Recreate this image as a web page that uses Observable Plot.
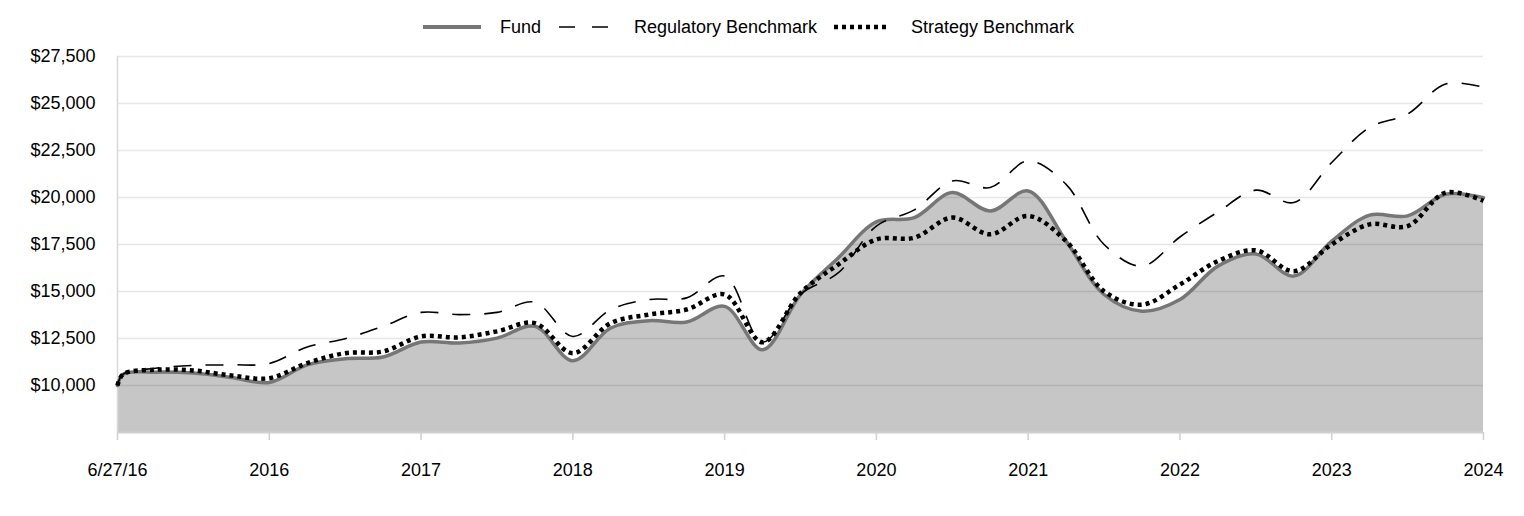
<!DOCTYPE html>
<html>
<head>
<meta charset="utf-8">
<script src="https://cdn.jsdelivr.net/npm/d3@7"></script>
<script src="https://cdn.jsdelivr.net/npm/@observablehq/plot@0.6"></script>
<style>
  body { margin: 0; background: #fff; font-family: "Liberation Sans", Arial, sans-serif; }
  #wrap { position: relative; width: 1524px; height: 516px; }
  #legend { position: absolute; left: 0; top: 0; width: 1524px; height: 40px; font-size: 18px; color: #000; }
  .item { position: absolute; top: 16px; display: flex; align-items: center; height: 22px; }
  .item span { margin-left: 19px; white-space: nowrap; }
  #chart { position: absolute; left: 0; top: 40px; }
</style>
</head>
<body>
<div id="wrap">
  <div id="legend"></div>
  <div id="chart"></div>
</div>
<script>
// Time position of each observation, in quarters from inception (6/27/16)
const quarter = [0, 0.15, 1, 2, 3, 4, 5, 6, 7, 8, 9, 10, 11, 12, 13, 14, 15, 16, 17, 18, 19, 20,
  21, 22, 23, 24, 25, 26, 27, 28, 29, 30, 31, 32, 33, 34, 35, 36];
const fund = [10000, 10600, 10710, 10660, 10430, 10160, 11100, 11420, 11520, 12310, 12260, 12520,
  13150, 11320, 13060, 13450, 13380, 14210, 11900, 14840, 16800, 18700, 18930, 20260, 19280, 20350,
  17680, 14840, 13950, 14570, 16350, 17000, 15820, 17680, 19060, 19020, 20170, 19990];
const regulatory = [10000, 10600, 10920, 11070, 11100, 11170, 12050, 12490, 13150, 13890, 13770, 13890,
  14430, 12610, 14040, 14570, 14660, 15820, 12300, 14850, 16000, 18480, 19340, 20880, 20530, 21950,
  20700, 17500, 16350, 17900, 19230, 20390, 19730, 21860, 23730, 24440, 26040, 25860];
const strategy = [10000, 10600, 10840, 10800, 10530, 10390, 11190, 11720, 11810, 12610, 12560, 12880,
  13320, 11720, 13320, 13770, 14040, 14840, 12300, 14920, 16440, 17770, 17860, 18930, 18040, 19020,
  17680, 15010, 14300, 15370, 16620, 17190, 16080, 17500, 18570, 18480, 20260, 19820];
const xTickPos = [0, 4, 8, 12, 16, 20, 24, 28, 32, 36];
const xTickLabels = ["6/27/16", "2016", "2017", "2018", "2019", "2020", "2021", "2022", "2023", "2024"];
const yTicks = [10000, 12500, 15000, 17500, 20000, 22500, 25000, 27500];
const yDomain = [7500, 27500];
const seriesNames = ["Fund", "Regulatory Benchmark", "Strategy Benchmark"];

const rows = (vals) => quarter.map((q, i) => ({q, v: vals[i]}));
const fundRows = rows(fund), regRows = rows(regulatory), stratRows = rows(strategy);
const curve = "catmull-rom";
const fmt = d3.format(",");
const labelOf = new Map(xTickPos.map((p, i) => [p, xTickLabels[i]]));

const chart = Plot.plot({
  width: 1524,
  height: 476,
  marginLeft: 117,
  marginRight: 41,
  marginTop: 16,
  marginBottom: 84,
  style: {fontFamily: "'Liberation Sans', Arial, sans-serif", fontSize: "18px", color: "#000", background: "#fff"},
  x: {type: "linear", domain: [0, 36]},
  y: {domain: yDomain},
  marks: [
    Plot.areaY(fundRows, {x: "q", y: "v", fill: "#c6c6c6", curve, clip: true}),
    Plot.ruleY(yTicks, {stroke: "#000", strokeOpacity: 0.095, strokeWidth: 1.5}),
    Plot.ruleX([0], {stroke: "#d9d9d9", strokeWidth: 1.5}),
    Plot.ruleY([yDomain[0]], {stroke: "#cfcfcf", strokeWidth: 2}),
    Plot.lineY(fundRows, {x: "q", y: "v", stroke: "#767676", strokeWidth: 3.5, curve}),
    Plot.lineY(regRows, {x: "q", y: "v", stroke: "#000", strokeWidth: 1.6, strokeDasharray: "18,14",
      strokeLinecap: "butt", curve}),
    Plot.lineY(stratRows, {x: "q", y: "v", stroke: "#000", strokeWidth: 4.5, strokeDasharray: "4,4",
      strokeLinecap: "butt", strokeLinejoin: "miter", curve}),
    Plot.axisX(xTickPos, {tickSize: 8, tickPadding: 23, stroke: "#d0d0d0", strokeWidth: 1.5,
      tickFormat: d => labelOf.get(d), fill: "#000", label: null}),
    Plot.axisY(yTicks, {tickSize: 0, tickPadding: 22, tickFormat: d => "$" + fmt(d), fill: "#000", label: null})
  ]
});
document.getElementById("chart").appendChild(chart);

// Legend
const legend = document.getElementById("legend");
const swatches = [
  {left: 423, svg: '<line x1="0" y1="11" x2="58" y2="11" stroke="#767676" stroke-width="4"/>'},
  {left: 557, svg: '<line x1="2" y1="11" x2="58" y2="11" stroke="#000" stroke-width="1.6" stroke-dasharray="16,17"/>'},
  {left: 834, svg: '<line x1="0" y1="11" x2="54" y2="11" stroke="#000" stroke-width="4.5" stroke-dasharray="4,4"/>'}
];
swatches.forEach((s, i) => {
  const d = document.createElement("div");
  d.className = "item";
  d.style.left = s.left + "px";
  d.innerHTML = '<svg width="58" height="22">' + s.svg + '</svg><span>' + seriesNames[i] + '</span>';
  legend.appendChild(d);
});
</script>
</body>
</html>
